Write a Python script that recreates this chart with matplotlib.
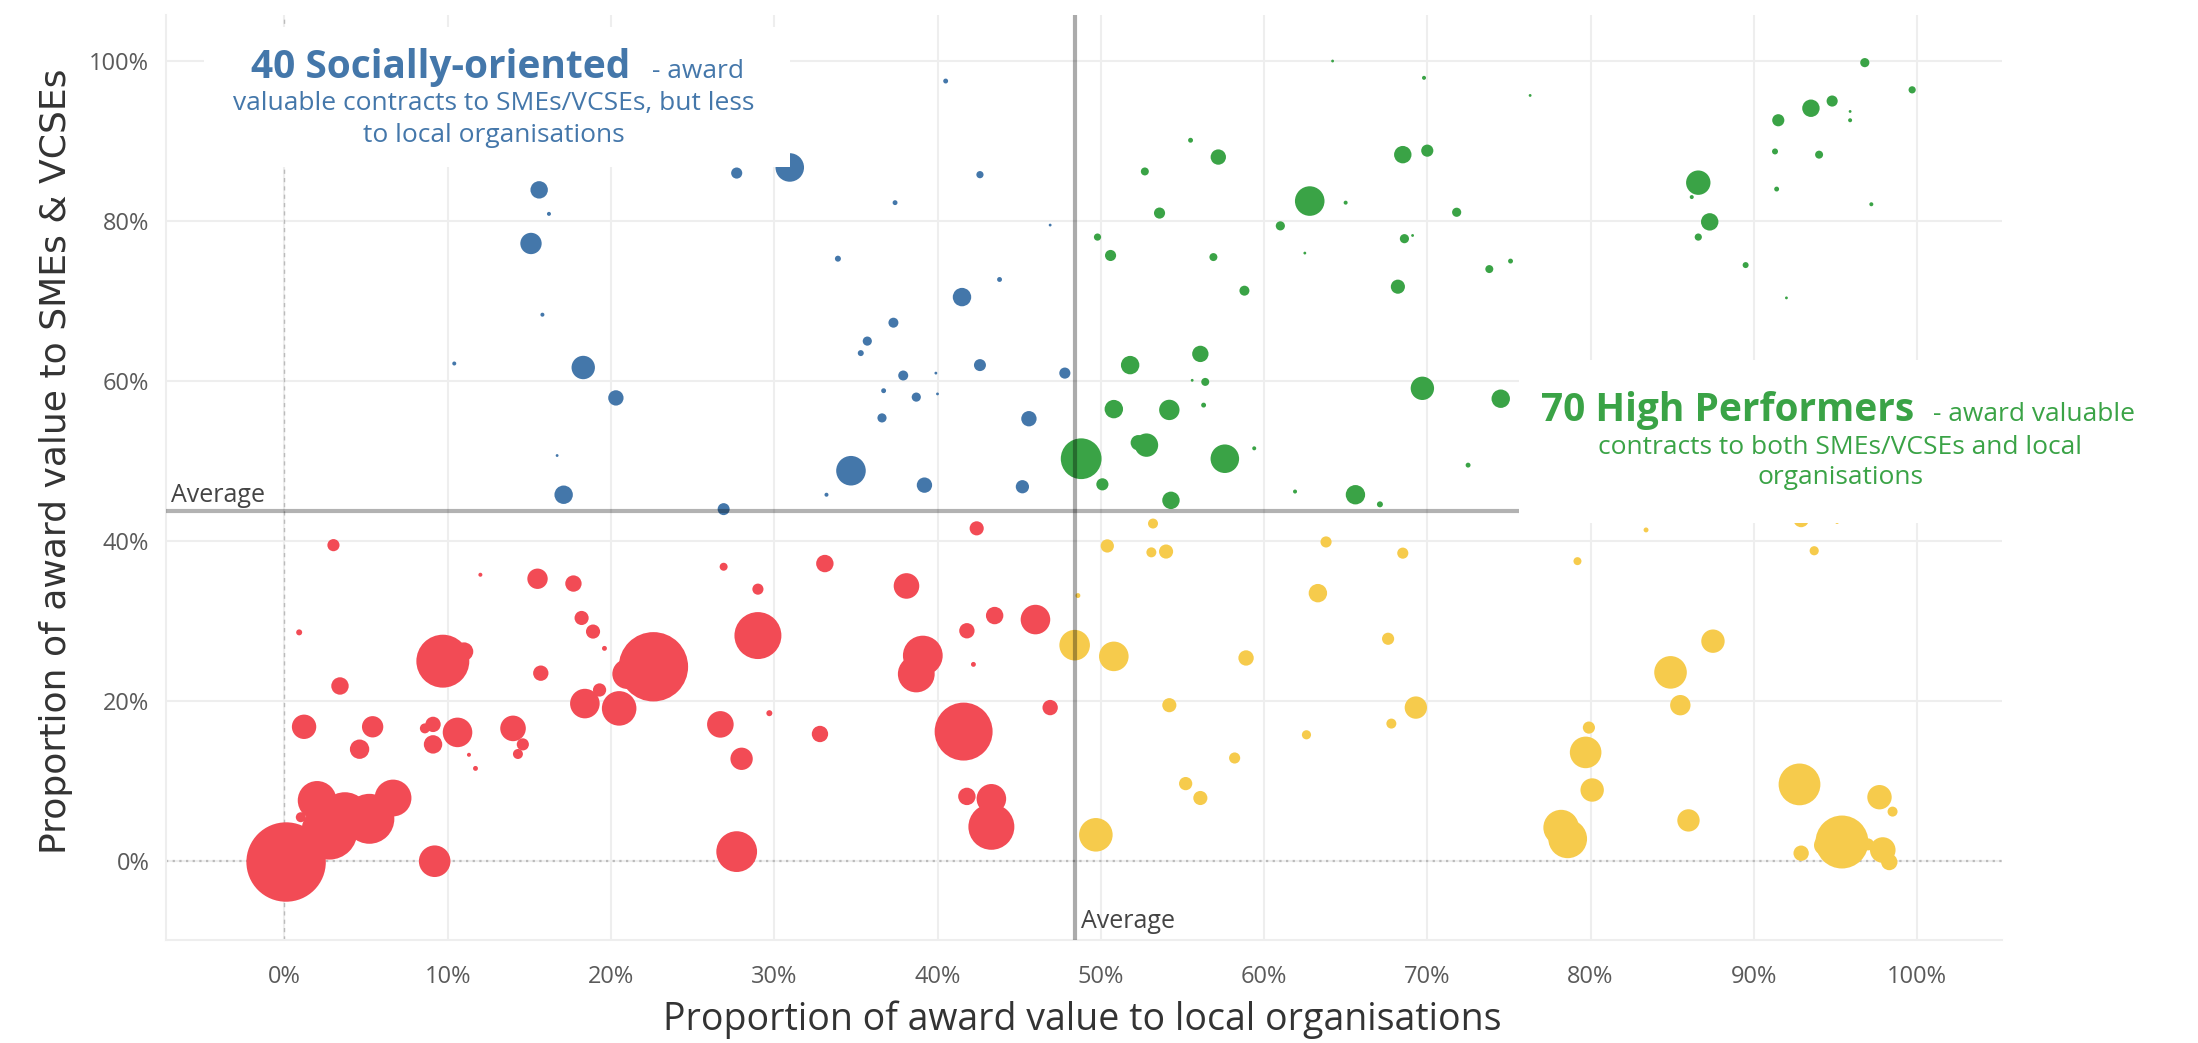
import matplotlib
matplotlib.use("Agg")
import matplotlib.pyplot as plt
from matplotlib.patches import Rectangle
import numpy as np

# x = % of award value to local organisations, y = % to SMEs & VCSEs,
# value = total award value (bubble area)
social_x = [15.6, 16.2, 15.1, 15.8, 10.4, 18.3, 20.3, 16.7, 17.1, 26.9, 27.7, 30.95,
            40.5, 42.6, 37.4, 46.9, 33.9, 43.8, 41.5, 37.3, 35.7, 35.3, 42.6, 37.9,
            39.9, 47.8, 36.7, 38.7, 40.0, 36.6, 45.6, 34.7, 33.2, 39.2, 45.2]
social_y = [83.9, 80.9, 77.2, 68.3, 62.2, 61.7, 57.9, 50.7, 45.8, 44.0, 86.0, 86.7,
            97.5, 85.8, 82.3, 79.5, 75.3, 72.7, 70.5, 67.3, 65.0, 63.5, 62.0, 60.7,
            61.0, 61.0, 58.8, 58.0, 58.4, 55.4, 55.3, 48.8, 45.8, 47.0, 46.8]
social_v = [7.6, 0.4, 11.4, 0.4, 0.4, 13.7, 5.9, 0.2, 8.5, 3.6, 3.1, 20.4,
            0.6, 1.3, 0.6, 0.2, 0.9, 0.6, 8.5, 2.5, 2.1, 0.9, 3.6, 2.5,
            0.2, 3.1, 0.6, 2.1, 0.2, 2.1, 5.9, 21.9, 0.4, 5.9, 4.4]

high_x = [55.5, 57.2, 52.7, 62.8, 65.0, 53.6, 61.0, 49.8, 50.6, 56.9, 62.5, 58.8,
          56.1, 51.8, 55.6, 56.4, 56.3, 50.8, 54.2, 52.3, 52.8, 48.8, 57.6, 59.4,
          50.1, 54.3, 61.9, 65.6, 67.1, 64.2, 69.8, 68.5, 70.0, 71.8, 68.6, 69.1,
          73.8, 68.2, 69.7, 74.5, 72.5, 76.3, 75.1, 96.8, 99.7, 91.5, 93.5, 94.8,
          95.9, 95.9, 91.3, 94.0, 86.6, 86.2, 91.4, 97.2, 87.3, 86.6, 89.5, 92.0]
high_y = [90.1, 88.0, 86.2, 82.5, 82.3, 81.0, 79.4, 78.0, 75.7, 75.5, 76.0, 71.3,
          63.4, 62.0, 60.1, 59.9, 57.0, 56.5, 56.4, 52.3, 52.0, 50.3, 50.3, 51.6,
          47.1, 45.1, 46.2, 45.8, 44.6, 100.0, 97.9, 88.3, 88.8, 81.1, 77.8, 78.2,
          74.0, 71.8, 59.1, 57.8, 49.5, 95.7, 75.0, 99.8, 96.4, 92.6, 94.1, 95.0,
          93.7, 92.6, 88.7, 88.3, 84.8, 83.0, 84.0, 82.1, 79.9, 78.0, 74.5, 70.4]
high_v = [0.6, 5.9, 1.6, 21.9, 0.4, 3.1, 2.1, 1.3, 3.1, 1.6, 0.2, 2.5,
          6.7, 8.5, 0.2, 1.6, 0.6, 8.5, 10.4, 5.9, 13.7, 41.6, 20.4, 0.4,
          3.7, 7.6, 0.4, 9.4, 0.9, 0.2, 0.4, 7.6, 3.7, 2.1, 2.1, 0.2,
          1.6, 5.0, 13.7, 8.5, 0.6, 0.2, 0.6, 2.1, 1.3, 3.7, 7.6, 3.1,
          0.2, 0.4, 0.9, 1.6, 14.9, 0.4, 0.6, 0.4, 7.6, 1.3, 0.9, 0.2]

low_x = [0.1, 3.0, 0.9, 3.4, 1.2, 5.4, 4.6, 2.0, 1.0, 2.75, 3.7, 5.2, 6.65, 9.7,
         11.0, 9.1, 8.6, 9.1, 10.6, 9.2, 11.3, 11.7, 12.0, 15.5, 17.7, 18.2, 18.9,
         19.6, 15.7, 19.3, 18.4, 20.5, 22.6, 21.0, 14.0, 14.6, 14.3, 26.9, 29.0,
         29.0, 29.7, 26.7, 28.0, 27.7, 33.1, 42.4, 38.1, 43.5, 46.0, 41.8, 39.1,
         38.7, 42.2, 46.9, 32.8, 41.6, 41.8, 43.3, 43.3]
low_y = [-0.1, 39.5, 28.6, 21.9, 16.8, 16.8, 14.0, 7.6, 5.5, 3.7, 5.5, 5.3, 7.9, 25.0,
         26.2, 17.1, 16.6, 14.6, 16.1, 0.0, 13.3, 11.6, 35.8, 35.3, 34.7, 30.4, 28.7,
         26.6, 23.5, 21.4, 19.7, 19.1, 24.3, 23.4, 16.6, 14.6, 13.4, 36.8, 34.0,
         28.2, 18.5, 17.1, 12.8, 1.2, 37.2, 41.6, 34.4, 30.7, 30.2, 28.8, 25.7,
         23.4, 24.6, 19.2, 15.9, 16.2, 8.1, 7.8, 4.3]
low_v = [158.0, 3.7, 0.9, 7.6, 14.9, 11.4, 9.4, 37.6, 2.5, 78.4, 62.5, 62.5, 33.9, 70.2,
         8.5, 5.9, 2.5, 8.5, 21.9, 25.0, 0.4, 0.6, 0.4, 10.4, 6.7, 5.0, 5.0,
         0.6, 5.9, 4.4, 21.9, 29.9, 120.4, 22.5, 16.4, 3.7, 2.5, 1.6, 3.1,
         55.2, 0.9, 17.7, 12.5, 41.6, 7.6, 5.0, 16.4, 7.6, 21.9, 5.9, 39.6,
         33.9, 0.6, 5.9, 6.7, 84.1, 7.6, 21.9, 52.9]

local_x = [53.2, 50.4, 53.1, 54.0, 63.8, 68.5, 48.6, 63.3, 48.4, 50.8, 58.9, 67.6,
           54.2, 69.3, 67.8, 62.6, 58.2, 55.2, 56.1, 49.7, 83.4, 79.2, 93.7, 92.9,
           95.1, 87.5, 84.9, 85.5, 79.9, 79.7, 80.1, 86.0, 78.2, 78.6, 92.8, 97.7,
           98.5, 95.4, 92.9, 97.9, 98.3, 94.3, 97.0]
local_y = [42.2, 39.4, 38.6, 38.7, 39.9, 38.5, 33.2, 33.5, 27.0, 25.6, 25.4, 27.8,
           19.5, 19.2, 17.2, 15.8, 12.9, 9.7, 7.9, 3.3, 41.4, 37.5, 38.8, 42.7,
           42.4, 27.5, 23.6, 19.5, 16.7, 13.6, 8.9, 5.1, 4.2, 2.8, 9.6, 8.0,
           6.2, 2.4, 1.0, 1.4, -0.1, 2.0, 2.1]
local_v = [2.5, 4.4, 2.5, 5.0, 3.1, 3.1, 0.6, 8.5, 23.4, 21.9, 5.9, 3.7,
           5.0, 12.5, 2.5, 2.1, 3.1, 4.4, 5.0, 28.2, 0.6, 1.6, 2.1, 5.9,
           0.4, 13.7, 26.6, 10.4, 3.7, 25.0, 13.7, 12.5, 31.7, 37.6, 43.7, 14.9,
           2.5, 70.2, 5.9, 16.4, 6.7, 10.0, 3.6]

avg_x = 48.4
avg_y = 43.8
x_ticks = list(range(0, 101, 10))
y_ticks = list(range(0, 101, 20))

BLUE = "#4477aa"
GREEN = "#3aa346"
RED = "#f24b55"
YELLOW = "#f6cb4c"
SIZE_K = 20.7

plt.rcParams["font.family"] = ["Open Sans", "DejaVu Sans"]

fig = plt.figure(figsize=(21.98, 10.43), dpi=100)
ax = fig.add_axes([0.0755, 0.0991, 0.8353, 0.8865])

groups = [(low_x, low_y, low_v, RED), (local_x, local_y, local_v, YELLOW),
          (social_x, social_y, social_v, BLUE), (high_x, high_y, high_v, GREEN)]
for gx, gy, gv, col in groups:
    ax.scatter(gx, gy, s=np.array(gv) * SIZE_K, color=col, linewidths=0, zorder=3)

ax.set_xlim(-7.26, 105.2)
ax.set_ylim(-9.8, 105.75)
ax.set_xticks(x_ticks)
ax.set_yticks(y_ticks)
ax.set_xticklabels([f"{t}%" for t in x_ticks])
ax.set_yticklabels([f"{t}%" for t in y_ticks])
ax.tick_params(length=0, labelsize=17, labelcolor="#5a5a5a")
ax.tick_params(axis="x", pad=18)
ax.tick_params(axis="y", pad=12)
ax.grid(True, color="#eeeeee", lw=1.5, zorder=0)
ax.set_axisbelow(True)
for side in ["top", "right"]:
    ax.spines[side].set_visible(False)
for side in ["left", "bottom"]:
    ax.spines[side].set_color("#eeeeee")
    ax.spines[side].set_linewidth(1.5)

# zero reference lines
ax.axvline(0, color="#bbbbbb", ls=(0, (3, 3)), lw=1, zorder=1)
ax.axhline(0, color="#bbbbbb", ls=(0, (1, 2)), lw=1.6, zorder=1)

# averages
ax.axvline(avg_x, color="black", alpha=0.33, lw=3, zorder=4)
ax.axhline(avg_y, color="black", alpha=0.3, lw=3, zorder=4)
ax.text(-6.95, 45.7, "Average", ha="left", va="center", fontsize=18, color="#444444")
ax.text(48.8, -7.5, "Average", ha="left", va="center", fontsize=18, color="#444444")

# annotation boxes (white, sit over the bubbles)
ax.add_patch(Rectangle((-4.93, 86.7), 35.88, 17.55, facecolor="white",
                       edgecolor="none", zorder=5))
ax.add_patch(Rectangle((75.6, 42.25), 40, 20.35, facecolor="white",
                       edgecolor="none", zorder=5, clip_on=False))

ax.text(21.2, 97.9, "40 Socially-oriented", ha="right", va="baseline",
        fontsize=28, fontweight="bold", color=BLUE, zorder=6)
ax.text(22.5, 97.9, "- award", ha="left", va="baseline",
        fontsize=19, color=BLUE, zorder=6)
ax.text(12.8, 94.75, "valuable contracts to SMEs/VCSEs, but less", ha="center",
        va="center", fontsize=19, color=BLUE, zorder=6)
ax.text(12.8, 90.75, "to local organisations", ha="center", va="center",
        fontsize=19, color=BLUE, zorder=6)

ax.text(99.8, 55.0, "70 High Performers", ha="right", va="baseline",
        fontsize=28, fontweight="bold", color=GREEN, zorder=6, clip_on=False)
ax.text(101.0, 55.0, "- award valuable", ha="left", va="baseline",
        fontsize=19, color=GREEN, zorder=6, clip_on=False)
ax.text(95.3, 51.75, "contracts to both SMEs/VCSEs and local", ha="center",
        va="center", fontsize=19, color=GREEN, zorder=6, clip_on=False)
ax.text(95.3, 47.9, "organisations", ha="center", va="center",
        fontsize=19, color=GREEN, zorder=6, clip_on=False)

ax.set_xlabel("Proportion of award value to local organisations",
              fontsize=27, color="#333333")
ax.xaxis.set_label_coords(0.499, -0.087)
ax.xaxis.label.set_va("center")
ax.set_ylabel("Proportion of award value to SMEs & VCSEs",
              fontsize=26, color="#333333", family=["DejaVu Sans"])
ax.yaxis.set_label_coords(-0.06, 0.5176)
ax.yaxis.label.set_va("center")

fig.savefig("out.png", dpi=100, facecolor="white")
